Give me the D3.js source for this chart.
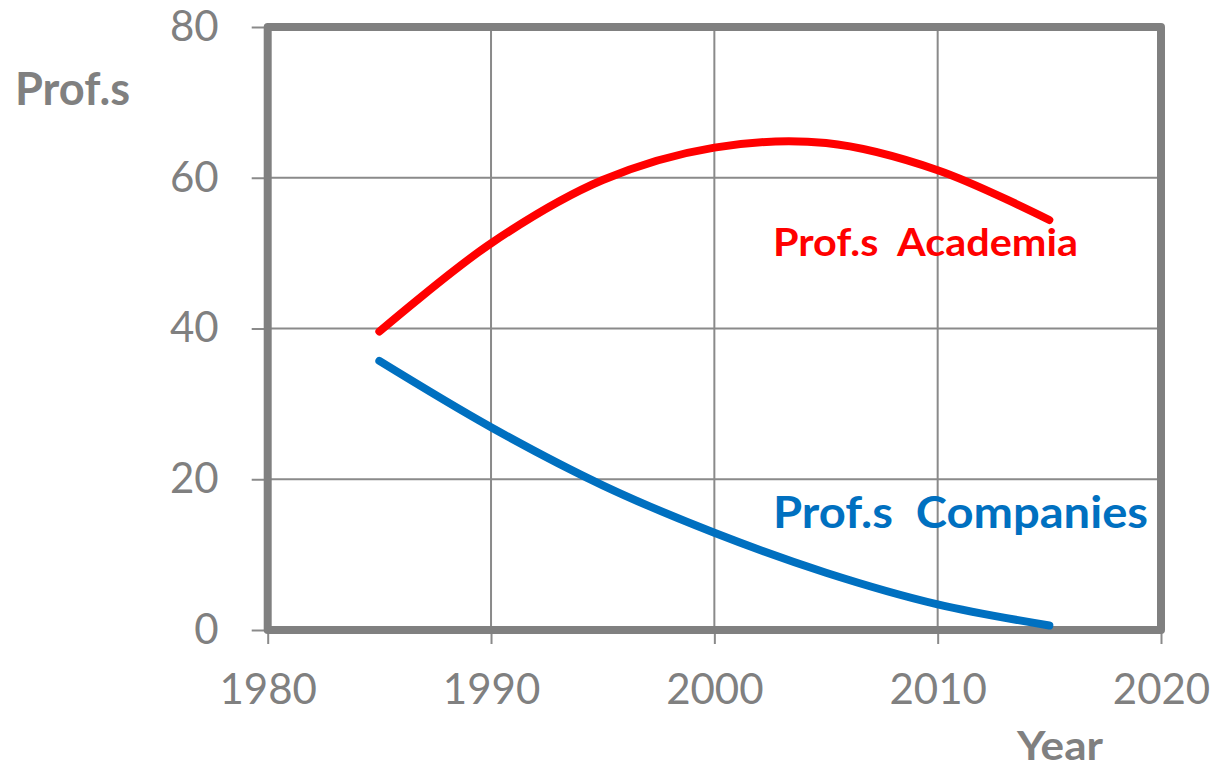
<!DOCTYPE html>
<html>
<head>
<meta charset="utf-8">
<script src="https://cdn.jsdelivr.net/npm/d3@7"></script>
<style>
  html, body { margin: 0; padding: 0; background: #ffffff; }
  svg { display: block; }
  text { font-family: Lato, "Open Sans", sans-serif; }
</style>
</head>
<body>
<svg id="chart" width="1213" height="769"></svg>
<script>
const years = [1985, 1990, 1995, 2000, 2005, 2010, 2015];
const academia = [39.6, 51.3, 59.7, 64.0, 64.6, 61.0, 54.4];
const companies = [35.7, 26.9, 19.2, 12.9, 7.6, 3.4, 0.6];
const xTicks = [1980, 1990, 2000, 2010, 2020];
const yTicks = [0, 20, 40, 60, 80];
const xTitle = "Year";
const yTitle = "Prof.s";
const seriesNames = ["Prof.s  Academia", "Prof.s  Companies"];

const svg = d3.select("#chart");
const gray = "#808080";
const gridGray = "#8a8a8a";

const x = d3.scaleLinear().domain([1980, 2020]).range([267.7, 1161]);
const y = d3.scaleLinear().domain([0, 80]).range([630, 27]);

// gridlines
const grid = svg.append("g");
grid.selectAll("line.v").data(xTicks.slice(1, -1)).join("line")
  .attr("x1", d => x(d)).attr("x2", d => x(d))
  .attr("y1", y(80)).attr("y2", y(0))
  .attr("stroke", gridGray).attr("stroke-width", 2);
grid.selectAll("line.h").data(yTicks.slice(1, -1)).join("line")
  .attr("y1", d => y(d)).attr("y2", d => y(d))
  .attr("x1", x(1980)).attr("x2", x(2020))
  .attr("stroke", gridGray).attr("stroke-width", 2);

// axes (tick marks + labels)
const yAxis = d3.axisLeft(y).tickValues(yTicks).tickSize(16).tickPadding(33);
const gy = svg.append("g").attr("transform", `translate(${x(1980)},0)`).call(yAxis);
const xAxis = d3.axisBottom(x).tickValues(xTicks).tickFormat(d3.format("d")).tickSize(14).tickPadding(30);
const gx = svg.append("g").attr("transform", `translate(0,${y(0)})`).call(xAxis);
[gx, gy].forEach(g => {
  g.select(".domain").remove();
  g.selectAll(".tick line").attr("stroke", gridGray).attr("stroke-width", 2);
  g.selectAll(".tick text").attr("fill", gray).style("font-size", "42px")
    .style("font-family", "Lato, 'Open Sans', sans-serif");
});

// frame
svg.append("rect")
  .attr("x", x(1980)).attr("y", y(80))
  .attr("width", x(2020) - x(1980)).attr("height", y(0) - y(80))
  .attr("fill", "none").attr("stroke", gray).attr("stroke-width", 8)
  .attr("stroke-linejoin", "round");

// lines
const line = d3.line().x((d, i) => x(years[i])).y(d => y(d)).curve(d3.curveCatmullRom.alpha(0.5));
svg.append("path").datum(academia).attr("d", line)
  .attr("fill", "none").attr("stroke", "#ff0000").attr("stroke-width", 8)
  .attr("stroke-linecap", "round");
svg.append("path").datum(companies).attr("d", line)
  .attr("fill", "none").attr("stroke", "#0070c0").attr("stroke-width", 8)
  .attr("stroke-linecap", "round");

// titles
svg.append("text").text(yTitle).attr("x", 15).attr("y", 105)
  .attr("fill", gray).style("font-weight", "bold").style("font-size", "45px")
  .attr("textLength", 115).attr("lengthAdjust", "spacingAndGlyphs");
svg.append("text").text(xTitle).attr("x", 1017).attr("y", 760)
  .attr("fill", gray).style("font-weight", "bold").style("font-size", "40px")
  .attr("textLength", 86).attr("lengthAdjust", "spacingAndGlyphs");

// series labels
svg.append("text").text(seriesNames[0]).attr("x", 773).attr("y", 256)
  .attr("fill", "#ff0000").style("font-weight", "bold").style("font-size", "38px")
  .style("white-space", "pre").attr("xml:space", "preserve")
  .attr("textLength", 305).attr("lengthAdjust", "spacingAndGlyphs");
svg.append("text").text(seriesNames[1]).attr("x", 773).attr("y", 528)
  .attr("fill", "#0070c0").style("font-weight", "bold").style("font-size", "43px")
  .style("white-space", "pre").attr("xml:space", "preserve")
  .attr("textLength", 375).attr("lengthAdjust", "spacingAndGlyphs");
</script>
</body>
</html>
